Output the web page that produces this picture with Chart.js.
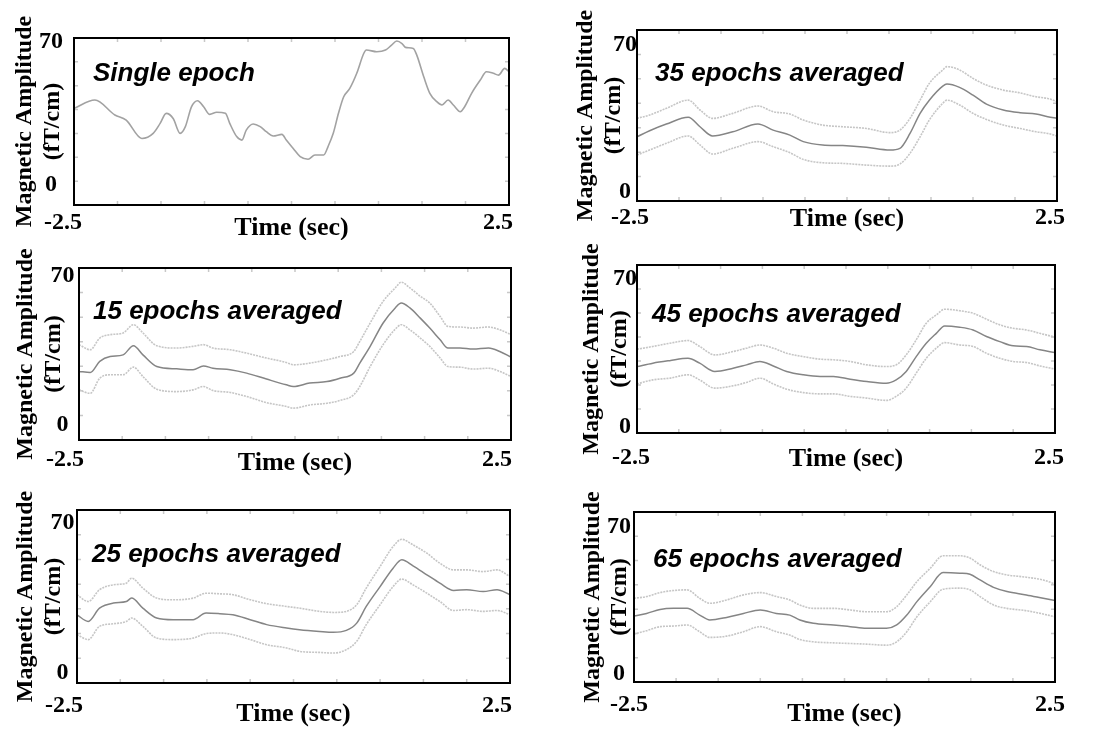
<!DOCTYPE html>
<html>
<head>
<meta charset="utf-8">
<title>Magnetic amplitude – single epoch vs averaged epochs</title>
<script src="https://cdn.jsdelivr.net/npm/chart.js@4.4.1/dist/chart.umd.min.js"></script>
<style>
  html, body { margin: 0; padding: 0; background: #fff; }
  #figure { position: relative; width: 1101px; height: 733px; overflow: hidden; background: #fff; }
  #figure canvas { position: absolute; }
</style>
</head>
<body>
<div id="figure"></div>
<script>
// === Data (time in sec, amplitude in fT/cm) ===
const yTickValues = [0, 70];          // only these two get a label
const xEdgeLabels = [-2.5, 2.5];      // only the ends of the time axis are labelled
const xMinorStep = 0.5;

// single epoch
const singleTime = [-2.5, -2.26, -2.03, -1.9, -1.72, -1.59, -1.51, -1.44, -1.36, -1.28, -1.22, -1.15, -1.08, -1.01, -0.94, -0.86,
  -0.76, -0.71, -0.63, -0.57, -0.52, -0.44, -0.36, -0.29, -0.21, -0.11, -0.06, 0.02, 0.1, 0.19, 0.27, 0.37, 0.42, 0.48, 0.54, 0.6,
  0.67, 0.75, 0.83, 0.86, 0.98, 1.08, 1.15, 1.21, 1.27, 1.31, 1.4, 1.44, 1.52, 1.59, 1.67, 1.73, 1.8, 1.86, 1.94, 1.99, 2.07, 2.17,
  2.24, 2.32, 2.38, 2.45, 2.5];
const singleAmp = [37.5, 41.6, 34.3, 31.8, 22.8, 25.3, 30.2, 35.1, 32.6, 25.3, 28.6, 38.3, 41.3, 38.3, 34.6, 35.6,
  35.1, 30.2, 23.7, 22.0, 26.9, 29.9, 28.6, 26.1, 24.0, 24.8, 22.0, 17.9, 13.9, 12.6, 14.7, 14.7, 18.8, 25.3, 35.1, 43.2,
  47.3, 54.7, 64.4, 66.1, 65.3, 66.1, 68.5, 70.5, 69.3, 67.4, 66.9, 63.6, 53.0, 44.9, 40.8, 39.2, 41.6, 39.2, 35.9, 38.3, 44.9, 51.4,
  55.5, 54.7, 53.8, 57.1, 55.5];

// 15 epochs averaged (mean and the two bounds)
const t15 = [-2.5, -2.37, -2.26, -2.14, -1.99, -1.87, -1.76, -1.6, -1.37, -1.18, -1.06, -0.95, -0.75, -0.56, -0.33, -0.1, -0.02, 0.17,
  0.37, 0.52, 0.68, 0.75, 0.87, 1.02, 1.16, 1.23, 1.33, 1.45, 1.56, 1.68, 1.77, 1.91, 2.06, 2.24, 2.37, 2.5];
const mean15 = [25.2, 24.7, 29.9, 32.2, 33.0, 37.3, 33.0, 27.5, 26.4, 26.0, 27.8, 26.7, 26.0, 24.4, 21.6, 18.9, 18.1, 19.7,
  20.4, 22.0, 24.4, 29.1, 37.0, 48.0, 55.1, 57.4, 55.1, 50.3, 45.6, 40.1, 36.2, 36.2, 35.7, 36.2, 34.6, 31.9];
const upper15 = [37.8, 35.4, 40.9, 42.5, 43.3, 47.2, 43.3, 37.3, 36.2, 37.0, 37.8, 36.2, 35.4, 33.8, 31.5, 29.4, 28.3, 29.1,
  30.7, 32.2, 34.6, 39.3, 48.0, 58.2, 64.5, 67.2, 64.5, 60.6, 57.4, 51.1, 46.4, 46.1, 45.6, 46.1, 44.8, 42.5];
const lower15 = [16.5, 14.9, 22.0, 23.6, 23.6, 27.2, 22.8, 16.8, 15.7, 16.5, 18.1, 16.2, 15.3, 13.4, 10.5, 8.7, 7.9, 9.4,
  10.2, 11.5, 14.2, 18.1, 27.5, 37.8, 45.1, 47.2, 44.8, 40.9, 37.0, 31.5, 27.5, 27.2, 26.3, 26.7, 25.2, 22.8];

// 25 epochs averaged
const t25 = [-2.5, -2.37, -2.24, -2.08, -1.93, -1.87, -1.74, -1.58, -1.39, -1.16, -1.01, -0.85, -0.7, -0.5, -0.31, -0.08, 0.07,
  0.3, 0.46, 0.61, 0.73, 0.84, 1.0, 1.15, 1.25, 1.38, 1.54, 1.69, 1.85, 2.0, 2.19, 2.35, 2.5];
const mean25 = [27.2, 24.1, 30.3, 32.7, 33.4, 35.0, 30.3, 25.7, 24.9, 24.9, 28.0, 27.7, 27.2, 24.9, 22.6, 21.0, 20.2,
  19.4, 19.0, 19.9, 23.3, 31.1, 40.4, 49.0, 52.9, 50.1, 45.9, 42.0, 38.6, 38.9, 38.1, 38.9, 36.6];
const upper25 = [36.6, 33.4, 38.9, 41.2, 42.0, 44.3, 39.7, 35.0, 34.2, 35.0, 37.3, 37.0, 36.6, 34.2, 32.4, 31.1, 30.3,
  28.8, 28.3, 28.8, 31.9, 39.7, 49.8, 59.1, 62.5, 59.9, 56.0, 51.3, 48.2, 48.2, 47.4, 48.2, 45.1];
const lower25 = [17.9, 15.6, 21.8, 23.0, 24.1, 25.7, 21.8, 16.3, 15.6, 16.3, 18.4, 18.7, 17.9, 15.6, 13.2, 11.7, 10.1,
  9.6, 9.3, 10.9, 14.8, 22.6, 31.9, 40.4, 43.9, 41.2, 37.3, 33.4, 29.2, 29.6, 28.8, 29.2, 27.2];

// 35 epochs averaged
const t35 = [-2.5, -2.35, -2.15, -1.89, -1.75, -1.6, -1.36, -1.06, -0.88, -0.68, -0.52, -0.29, -0.05, 0.23, 0.51, 0.63, 0.75,
  0.87, 0.98, 1.14, 1.19, 1.34, 1.5, 1.66, 1.86, 2.06, 2.25, 2.39, 2.5];
const mean35 = [26.2, 29.1, 32.3, 35.5, 31.0, 26.6, 28.6, 32.3, 29.4, 27.0, 23.9, 22.3, 22.0, 21.2, 19.9, 20.7, 27.8,
  37.4, 43.7, 50.4, 51.4, 49.8, 46.1, 41.8, 39.0, 37.7, 37.1, 35.8, 35.0];
const upper35 = [35.0, 36.6, 39.8, 43.7, 39.0, 35.0, 37.4, 40.9, 38.2, 37.1, 34.2, 31.8, 31.0, 30.2, 28.2, 29.4, 35.0,
  43.7, 51.7, 58.1, 59.7, 58.1, 54.1, 50.9, 48.5, 47.2, 45.3, 44.5, 43.0];
const lower35 = [17.5, 19.9, 23.1, 26.6, 22.3, 18.0, 20.7, 23.9, 21.5, 18.6, 15.4, 13.8, 13.5, 12.7, 12.2, 13.2, 18.3,
  26.2, 34.2, 42.2, 43.7, 41.4, 37.4, 34.5, 31.8, 30.2, 28.6, 27.8, 26.6];

// 45 epochs averaged
const t45 = [-2.5, -2.31, -2.11, -1.89, -1.75, -1.57, -1.35, -1.19, -1.03, -0.87, -0.71, -0.51, -0.31, -0.15, 0.05, 0.25,
  0.48, 0.6, 0.72, 0.84, 0.96, 1.08, 1.18, 1.36, 1.52, 1.68, 1.84, 2.0, 2.16, 2.32, 2.5];
const mean45 = [28.3, 29.9, 31.1, 32.2, 29.9, 26.0, 27.5, 29.1, 30.7, 28.6, 26.0, 24.4, 23.6, 23.6, 22.3, 21.2,
  20.4, 22.0, 26.0, 33.0, 39.3, 44.0, 47.5, 46.9, 45.6, 42.5, 40.1, 38.1, 37.8, 36.2, 34.9];
const upper45 = [36.5, 37.8, 39.3, 40.6, 37.8, 33.8, 35.4, 37.0, 38.5, 37.0, 34.6, 33.0, 31.8, 31.5, 30.7, 29.1,
  28.3, 29.1, 33.8, 40.9, 48.8, 52.7, 55.4, 54.7, 53.5, 50.7, 48.0, 46.4, 45.6, 44.0, 42.2];
const lower45 = [20.1, 22.0, 22.8, 24.4, 22.0, 18.1, 19.2, 20.8, 22.8, 20.1, 17.6, 16.0, 15.4, 15.4, 14.2, 13.4,
  12.3, 14.2, 18.1, 25.2, 32.2, 37.0, 39.6, 38.5, 37.8, 34.6, 32.2, 30.7, 30.2, 28.6, 27.1];

// 65 epochs averaged
const t65 = [-2.5, -2.35, -2.19, -2.03, -1.87, -1.72, -1.6, -1.4, -1.2, -1.0, -0.81, -0.65, -0.53, -0.37, -0.13, 0.07,
  0.26, 0.5, 0.62, 0.74, 0.86, 1.02, 1.17, 1.37, 1.49, 1.61, 1.77, 1.93, 2.16, 2.36, 2.5];
const mean65 = [27.4, 28.6, 30.5, 31.0, 31.0, 27.8, 25.5, 26.7, 28.6, 30.2, 28.6, 27.8, 25.5, 23.9, 23.1, 22.3,
  21.5, 21.5, 23.1, 27.8, 34.2, 41.4, 48.0, 47.7, 47.2, 44.5, 41.0, 39.0, 37.4, 35.8, 34.7];
const upper65 = [35.8, 36.6, 38.5, 39.5, 39.8, 35.8, 33.4, 35.0, 37.4, 38.5, 36.6, 35.0, 32.6, 31.0, 31.0, 30.2,
  29.4, 29.4, 31.8, 37.4, 43.7, 50.1, 56.0, 56.0, 54.9, 51.7, 48.5, 46.9, 45.8, 44.5, 42.6];
const lower65 = [18.8, 20.4, 22.3, 22.6, 23.1, 19.9, 17.2, 17.8, 19.9, 22.3, 19.9, 18.3, 16.2, 15.1, 14.6, 14.3,
  14.0, 13.5, 15.1, 19.9, 27.0, 34.2, 40.1, 40.6, 39.8, 36.6, 32.6, 31.0, 29.9, 28.3, 27.0];

// === Styling ===
const SERIF = '"Liberation Serif", "Times New Roman", serif';
const lineStyle = {
  single: { color: '#a2a2a2', width: 1.6, dash: [] },
  mean:   { color: '#858585', width: 1.5, dash: [] },
  bound:  { color: '#c6c6c6', width: 1.6, dash: [2, 1] }
};

const band = (t, mean, upper, lower) => [
  { t, v: upper, kind: 'bound' },
  { t, v: lower, kind: 'bound' },
  { t, v: mean, kind: 'mean' }
];

// layout of the six panels: canvas = [left, top, width, height], box = [left, right, top, bottom]
const panels = [
  { label: 'Single epoch', canvas: [0, 0, 555, 240], box: [74, 509, 38, 205], yRange: [-9.8, 72],
    yTitlePad: 11.2, yTickPad: 11, xTickPad: 6, xTitleDy: 23, xShift: -11, labelDx: 19, labelDy: 36,
    series: [{ t: singleTime, v: singleAmp, kind: 'single' }] },
  { label: '35 epochs averaged', canvas: [560, 0, 541, 240], box: [637, 1057, 30, 201], yRange: [-4.45, 77.2],
    yTitlePad: 12.2, yTickPad: 0, xTickPad: 5, xTitleDy: 18, xShift: -7, labelDx: 18, labelDy: 44,
    series: band(t35, mean35, upper35, lower35) },
  { label: '15 epochs averaged', canvas: [0, 240, 555, 240], box: [79, 511, 268, 440], yRange: [-7.1, 73.9],
    yTitlePad: 12, yTickPad: 4.5, xTickPad: 8, xTitleDy: 23, xShift: -14, labelDx: 14, labelDy: 44,
    series: band(t15, mean15, upper15, lower15) },
  { label: '45 epochs averaged', canvas: [560, 240, 541, 240], box: [637, 1055, 265, 433], yRange: [-3.1, 76.3],
    yTitlePad: 18, yTickPad: 0, xTickPad: 13, xTitleDy: 26, xShift: -6, labelDx: 15, labelDy: 50,
    series: band(t45, mean45, upper45, lower45) },
  { label: '25 epochs averaged', canvas: [0, 480, 555, 253], box: [77, 510, 510, 683], yRange: [-4.7, 76.2],
    yTitlePad: 12, yTickPad: 2.5, xTickPad: 11, xTitleDy: 31, xShift: -13, labelDx: 15, labelDy: 45,
    series: band(t25, mean25, upper25, lower25) },
  { label: '65 epochs averaged', canvas: [560, 480, 541, 253], box: [634, 1055, 512, 682], yRange: [-4.0, 76.8],
    yTitlePad: 18.7, yTickPad: 3, xTickPad: 11, xTitleDy: 32, xShift: -5, labelDx: 19, labelDy: 48,
    series: band(t65, mean65, upper65, lower65) }
];

// box around the plot, small inward tick marks, and the italic panel caption
const framePlugin = {
  id: 'frame',
  afterDatasetsDraw(chart, args, opts) {
    const { ctx, chartArea: a, scales: { x, y } } = chart;
    ctx.save();
    ctx.strokeStyle = '#c8c8c8';
    ctx.lineWidth = 1.5;
    ctx.beginPath();
    x.ticks.forEach(tk => {
      const px = x.getPixelForValue(tk.value);
      ctx.moveTo(px, a.top); ctx.lineTo(px, a.top + 4);
      ctx.moveTo(px, a.bottom); ctx.lineTo(px, a.bottom - 4);
    });
    for (let i = 1; i < 7; i++) {
      const py = y.getPixelForValue(y.max - i * (y.max - y.min) / 7);
      ctx.moveTo(a.left, py); ctx.lineTo(a.left + 4, py);
      ctx.moveTo(a.right, py); ctx.lineTo(a.right - 4, py);
    }
    ctx.stroke();

    ctx.strokeStyle = '#000';
    ctx.lineWidth = 2;
    ctx.strokeRect(a.left, a.top, a.width, a.height);

    ctx.font = 'italic bold 26px "Liberation Sans", Arial, sans-serif';
    ctx.fillStyle = '#000';
    ctx.textBaseline = 'middle';
    ctx.textAlign = 'left';
    ctx.fillText(opts.text, a.left + opts.dx, a.top + opts.dy);
    ctx.restore();
  }
};

const toPoints = (xs, ys) => xs.map((x, i) => ({ x, y: ys[i] }));
const figure = document.getElementById('figure');

panels.forEach(p => {
  const [cx, cy, cw, ch] = p.canvas;
  const [bl, br, bt, bb] = p.box;
  const cv = document.createElement('canvas');
  cv.width = cw;
  cv.height = ch;
  cv.style.left = cx + 'px';
  cv.style.top = cy + 'px';
  figure.appendChild(cv);

  const xHeight = p.xTitleDy + 13;

  new Chart(cv, {
    type: 'line',
    data: {
      datasets: p.series.map(s => ({
        data: toPoints(s.t, s.v),
        borderColor: lineStyle[s.kind].color,
        borderWidth: lineStyle[s.kind].width,
        borderDash: lineStyle[s.kind].dash,
        pointRadius: 0,
        cubicInterpolationMode: 'monotone',
        fill: false
      }))
    },
    options: {
      responsive: false,
      animation: false,
      devicePixelRatio: 1,
      layout: { padding: { left: 0, top: bt - cy, right: cx + cw - br, bottom: cy + ch - bb - xHeight } },
      plugins: {
        legend: { display: false },
        tooltip: { enabled: false },
        frame: { text: p.label, dx: p.labelDx, dy: p.labelDy }
      },
      scales: {
        x: {
          type: 'linear',
          min: xEdgeLabels[0],
          max: xEdgeLabels[1],
          grid: { display: false, drawTicks: false },
          border: { display: false },
          ticks: {
            stepSize: xMinorStep,
            autoSkip: false,
            maxRotation: 0,
            padding: p.xTickPad,
            labelOffset: p.xShift,
            color: '#000',
            font: { family: SERIF, size: 24, weight: 'bold', lineHeight: 1 },
            callback: v => (xEdgeLabels.some(e => Math.abs(e - v) < 1e-6) ? String(v) : '')
          },
          title: {
            display: true,
            text: 'Time (sec)',
            color: '#000',
            padding: 0,
            font: { family: SERIF, size: 26, weight: 'bold', lineHeight: 1 }
          },
          afterFit: s => { s.height = xHeight; }
        },
        y: {
          min: p.yRange[0],
          max: p.yRange[1],
          grid: { display: false, drawTicks: false },
          border: { display: false },
          afterBuildTicks: s => { s.ticks = yTickValues.map(value => ({ value })); },
          ticks: {
            padding: p.yTickPad,
            crossAlign: 'center',
            color: '#000',
            font: { family: SERIF, size: 24, weight: 'bold' },
            callback: v => String(v)
          },
          title: {
            display: true,
            text: ['Magnetic Amplitude', '(fT/cm)'],
            color: '#000',
            padding: { top: p.yTitlePad, bottom: 0 },
            font: { family: SERIF, size: 24, weight: 'bold', lineHeight: 1.15 }
          },
          afterFit: s => { s.width = bl - cx; }
        }
      }
    },
    plugins: [framePlugin]
  });
});
</script>
</body>
</html>
